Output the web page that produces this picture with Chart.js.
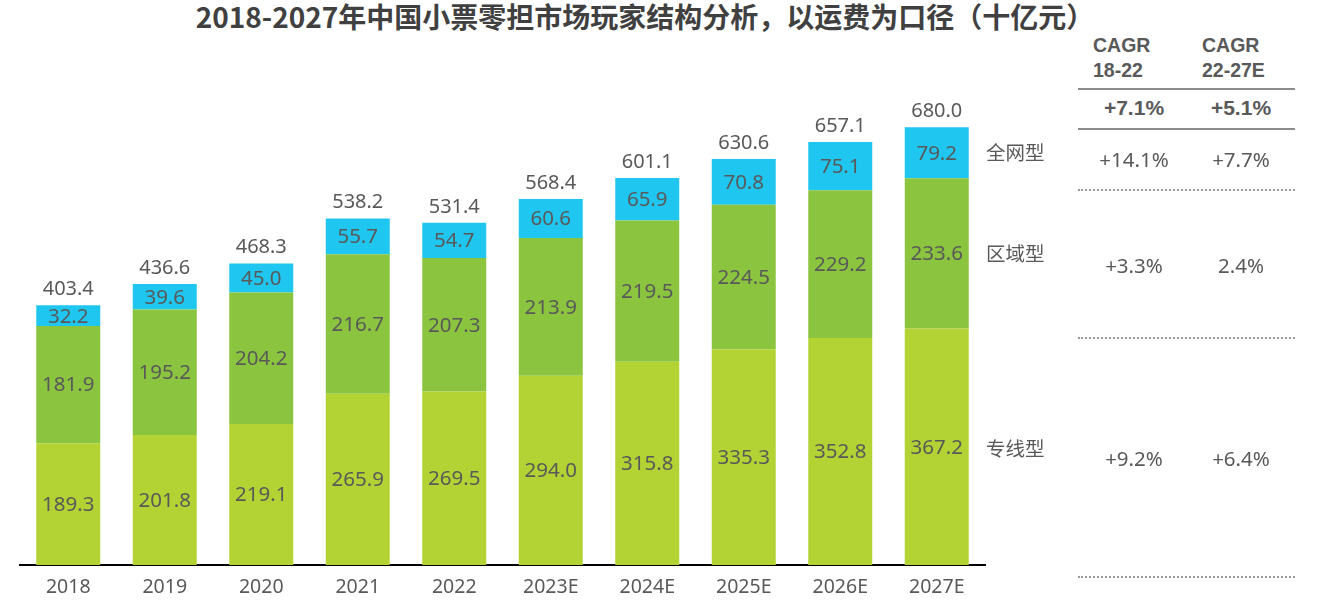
<!DOCTYPE html>
<html>
<head>
<meta charset="utf-8">
<script src="https://cdn.jsdelivr.net/npm/chart.js@4.4.1/dist/chart.umd.min.js"></script>
<style>
  html, body { margin: 0; padding: 0; background: #fff; }
  body { width: 1328px; height: 602px; position: relative; overflow: hidden;
         font-family: "Noto Sans", "Noto Sans CJK SC", sans-serif; color: #595959; }
  #wrap { position: absolute; left: 0; top: 0; width: 990px; height: 602px; }
  #title { position: absolute; left: 0; top: -3px; width: 1290px; text-align: center;
           font: bold 28px/38px "Noto Sans CJK SC", sans-serif; color: #404040; }
  .t { position: absolute; white-space: nowrap; }
  .hdr { font: bold 19.5px/25px "Liberation Sans", "Noto Sans CJK SC", sans-serif; color: #595959; }
  .tot { font: bold 21px "Liberation Sans", sans-serif; color: #595959; transform: translateX(-50%); }
  .val { font: 20.5px "Noto Sans", sans-serif; color: #595959; transform: translateX(-50%); }
  .lab { font: 19.5px "Noto Sans CJK SC", sans-serif; color: #595959; }
  .solid { position: absolute; left: 1078px; width: 217px; height: 2px; background: #8c8c8c; }
  .dot { position: absolute; left: 1078px; width: 217px; border-top: 2px dotted #9a9a9a; }
</style>
</head>
<body>
<div id="title">2018-2027年中国小票零担市场玩家结构分析，以运费为口径（十亿元）</div>
<div id="wrap"><canvas id="c"></canvas></div>

<div class="t hdr" style="left:1093px;top:33px;">CAGR<br>18-22</div>
<div class="t hdr" style="left:1202px;top:33px;">CAGR<br>22-27E</div>
<div class="solid" style="top:88px;"></div>
<div class="t tot" style="left:1134px;top:96px;">+7.1%</div>
<div class="t tot" style="left:1241px;top:96px;">+5.1%</div>
<div class="solid" style="top:128px;"></div>

<div class="t lab" style="left:986px;top:137px;">全网型</div>
<div class="t val" style="left:1134px;top:145px;">+14.1%</div>
<div class="t val" style="left:1241px;top:145px;">+7.7%</div>
<div class="dot" style="top:189px;"></div>

<div class="t lab" style="left:986px;top:238px;">区域型</div>
<div class="t val" style="left:1134px;top:251px;">+3.3%</div>
<div class="t val" style="left:1241px;top:251px;">2.4%</div>
<div class="dot" style="top:337px;"></div>

<div class="t lab" style="left:986px;top:433px;">专线型</div>
<div class="t val" style="left:1134px;top:444px;">+9.2%</div>
<div class="t val" style="left:1241px;top:444px;">+6.4%</div>
<div class="dot" style="top:576px;"></div>

<script>
const years = ['2018', '2019', '2020', '2021', '2022', '2023E', '2024E', '2025E', '2026E', '2027E'];
const zhuanxian = [189.3, 201.8, 219.1, 265.9, 269.5, 294.0, 315.8, 335.3, 352.8, 367.2];
const quyu = [181.9, 195.2, 204.2, 216.7, 207.3, 213.9, 219.5, 224.5, 229.2, 233.6];
const quanwang = [32.2, 39.6, 45.0, 55.7, 54.7, 60.6, 65.9, 70.8, 75.1, 79.2];
const totals = [403.4, 436.6, 468.3, 538.2, 531.4, 568.4, 601.1, 630.6, 657.1, 680.0];

const labelColor = '#595959';

// draws the value inside each segment and the total above the stack
const valueLabels = {
  id: 'valueLabels',
  afterDatasetsDraw(chart) {
    const ctx = chart.ctx;
    ctx.save();
    ctx.fillStyle = labelColor;
    ctx.textAlign = 'center';
    ctx.textBaseline = 'middle';
    ctx.font = '20.5px "Noto Sans", sans-serif';
    chart.data.datasets.forEach((ds, di) => {
      const meta = chart.getDatasetMeta(di);
      meta.data.forEach((bar, i) => {
        const mid = (bar.y + bar.base) / 2;
        ctx.fillText(ds.data[i].toFixed(1), bar.x, mid + 1);
      });
    });
    ctx.font = '20px "Noto Sans", sans-serif';
    const top = chart.getDatasetMeta(chart.data.datasets.length - 1);
    top.data.forEach((bar, i) => {
      ctx.fillText(totals[i].toFixed(1), bar.x, bar.y - 16);
    });
    ctx.restore();
  }
};

new Chart(document.getElementById('c'), {
  type: 'bar',
  data: {
    labels: years,
    datasets: [
      { label: '专线型', data: zhuanxian, backgroundColor: '#B3D233' },
      { label: '区域型', data: quyu, backgroundColor: '#8BC43F' },
      { label: '全网型', data: quanwang, backgroundColor: '#1FC7F0' }
    ]
  },
  options: {
    responsive: true,
    maintainAspectRatio: false,
    animation: false,
    layout: { padding: { left: 20, right: 5, top: 50, bottom: 0 } },
    datasets: { bar: { barPercentage: 0.663, categoryPercentage: 1 } },
    plugins: { legend: { display: false }, tooltip: { enabled: false } },
    scales: {
      x: {
        stacked: true,
        grid: { display: false },
        border: { color: '#000', width: 2 },
        ticks: { color: labelColor, font: { size: 19.5, family: '"Noto Sans", sans-serif' }, padding: 3 },
        afterFit(scale) { scale.height = 37; }
      },
      y: {
        stacked: true,
        display: false,
        min: 0,
        max: 800
      }
    }
  },
  plugins: [valueLabels]
});
</script>
</body>
</html>
